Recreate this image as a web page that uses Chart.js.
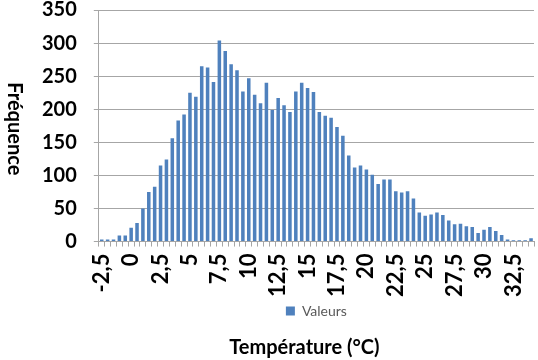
<!DOCTYPE html>
<html>
<head>
<meta charset="utf-8">
<script src="https://cdn.jsdelivr.net/npm/chart.js@4.4.1/dist/chart.umd.min.js"></script>
<style>
  html, body { margin: 0; padding: 0; background: #fff; }
  #wrap { width: 538px; height: 360px; }
</style>
</head>
<body>
<div id="wrap"><canvas id="histChart" width="538" height="360"></canvas></div>
<script>
// Temperature bins (°C), 0.5 wide
const bins = [
  -2.5, -2, -1.5, -1, -0.5, 0, 0.5, 1, 1.5, 2,
  2.5, 3, 3.5, 4, 4.5, 5, 5.5, 6, 6.5, 7,
  7.5, 8, 8.5, 9, 9.5, 10, 10.5, 11, 11.5, 12,
  12.5, 13, 13.5, 14, 14.5, 15, 15.5, 16, 16.5, 17,
  17.5, 18, 18.5, 19, 19.5, 20, 20.5, 21, 21.5, 22,
  22.5, 23, 23.5, 24, 24.5, 25, 25.5, 26, 26.5, 27,
  27.5, 28, 28.5, 29, 29.5, 30, 30.5, 31, 31.5, 32,
  32.5, 33, 33.5, 34
];

// Frequencies
const valeurs = [
  3, 3, 3, 9, 9, 21, 28, 50, 75, 83,
  115, 124, 156, 183, 192, 225, 219, 265, 263, 241,
  304, 288, 268, 259, 227, 247, 222, 209, 240, 199,
  217, 206, 196, 227, 240, 232, 226, 196, 190, 187,
  173, 160, 130, 112, 115, 109, 101, 87, 94, 94,
  76, 74, 76, 65, 44, 39, 41, 44, 40, 32,
  26, 27, 23, 22, 13, 18, 22, 16, 10, 3,
  2, 2, 2, 5
];

// Only every 5th bin gets a label (every 2,5 °C)
const labelEvery = 5;
const yTicks = { min: 0, max: 350, step: 50 };

const fontFamily = "Lato, 'Open Sans', sans-serif";
const barColor = '#4F81BD';
const gridColor = '#a6a6a6';

// French decimal comma
function fmt(v) {
    return String(v).replace('.', ',');
}

// Y axis title reads top-to-bottom, so it is drawn by hand
const yTitlePlugin = {
    id: 'yTitle',
    afterLayout(chart) {
        // the x title sits a bit left of the plot centre in the original
        const t = chart.titleBlock;
        if (t) {
            t.left -= 12;
            t.right -= 12;
        }
    },
    afterDraw(chart) {
        const ctx = chart.ctx;
        const area = chart.chartArea;
        ctx.save();
        ctx.translate(14, (area.top + area.bottom) / 2 + 3);
        ctx.rotate(Math.PI / 2);
        ctx.font = 'bold 20px ' + fontFamily;
        ctx.fillStyle = '#000';
        ctx.textAlign = 'center';
        ctx.textBaseline = 'middle';
        ctx.fillText('Fréquence', 0, 0);
        ctx.restore();
    }
};

const ctx = document.getElementById('histChart').getContext('2d');

new Chart(ctx, {
    type: 'bar',
    data: {
        labels: bins.map(fmt),
        datasets: [{
            label: 'Valeurs',
            data: valeurs,
            backgroundColor: barColor,
            borderWidth: 0,
            categoryPercentage: 1.0,
            barPercentage: 0.6
        }]
    },
    options: {
        responsive: false,
        animation: false,
        layout: {
            padding: { left: 25, right: 4, top: 0, bottom: 0 }
        },
        plugins: {
            legend: {
                position: 'bottom',
                fullSize: false,
                labels: {
                    boxWidth: 9,
                    boxHeight: 9,
                    padding: 0,
                    color: '#595959',
                    font: { family: fontFamily, size: 14 }
                }
            },
            title: {
                display: true,
                position: 'bottom',
                fullSize: false,
                text: 'Température (°C)',
                color: '#000',
                font: { family: fontFamily, size: 20, weight: 'bold' },
                padding: { top: 8, bottom: 0 }
            },
            tooltip: { enabled: false }
        },
        scales: {
            x: {
                grid: {
                    drawOnChartArea: false,
                    drawTicks: true,
                    tickLength: 5,
                    color: gridColor
                },
                border: { color: gridColor },
                ticks: {
                    autoSkip: false,
                    minRotation: 90,
                    maxRotation: 90,
                    padding: 7,
                    color: '#000',
                    font: { family: fontFamily, size: 22, weight: 'bold' },
                    callback: function (value, index) {
                        return index % labelEvery === 0 ? this.getLabelForValue(value) : '';
                    }
                },
                // rotated labels do not need side room
                afterFit: function (axis) {
                    axis.paddingLeft = 0;
                    axis.paddingRight = 0;
                }
            },
            y: {
                min: yTicks.min,
                max: yTicks.max,
                grid: {
                    color: gridColor,
                    tickLength: 5
                },
                border: { color: gridColor },
                ticks: {
                    stepSize: yTicks.step,
                    padding: 17,
                    color: '#000',
                    font: { family: fontFamily, size: 20, weight: 'bold' }
                },
                afterFit: function (axis) {
                    axis.paddingTop = 10;
                }
            }
        }
    },
    plugins: [yTitlePlugin]
});
</script>
</body>
</html>
